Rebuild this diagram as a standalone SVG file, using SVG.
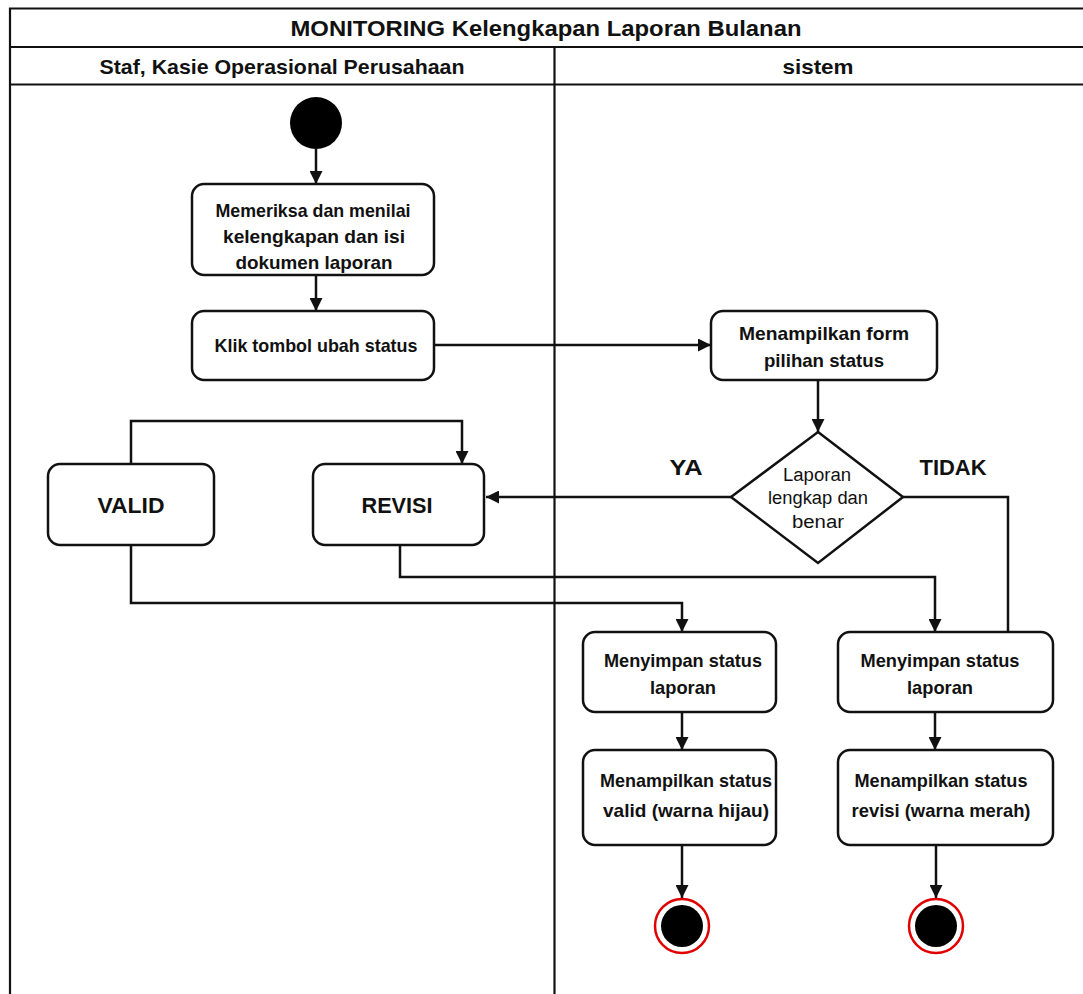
<svg xmlns="http://www.w3.org/2000/svg" width="1083" height="994" viewBox="0 0 1083 994">
  <style>
    .lane { fill: none; stroke: #111; stroke-width: 2.2; }
    .box { fill: #fff; stroke: #111; stroke-width: 2.5; }
    .edge { fill: none; stroke: #111; stroke-width: 2.5; }
    .t { font-family: "Liberation Sans", Arial, sans-serif; font-weight: bold; fill: #111; text-anchor: middle; }
    .title { font-size: 22.5px; }
    .head { font-size: 21px; }
    .lbl { font-size: 17.8px; }
    .big { font-size: 22px; }
    .dec { font-size: 18px; font-weight: normal; }
  </style>
  <defs>
    <marker id="arrow" viewBox="0 0 13 13" refX="13" refY="6.5" markerWidth="13" markerHeight="13" markerUnits="userSpaceOnUse" orient="auto">
      <path d="M0,0 L13,6.5 L0,13 Z" fill="#111"/>
    </marker>
  </defs>
  <rect width="1083" height="994" fill="#fff"/>

  <!-- swimlane frame -->
  <g id="frame">
    <path class="lane" d="M10,994 V8.5 H1083 M10,47 H1083 M10,84.5 H1083 M554.5,47 V994"/>
    <text class="t title" x="546" y="36" textLength="511" lengthAdjust="spacingAndGlyphs">MONITORING Kelengkapan Laporan Bulanan</text>
    <text class="t head" x="282" y="74" textLength="365" lengthAdjust="spacingAndGlyphs">Staf, Kasie Operasional Perusahaan</text>
    <text class="t head" x="818" y="74" textLength="71" lengthAdjust="spacingAndGlyphs">sistem</text>
  </g>

  <!-- connectors -->
  <g id="connectors">
    <path class="edge" d="M316,149 V184" marker-end="url(#arrow)"/>
    <path class="edge" d="M316,275 V311" marker-end="url(#arrow)"/>
    <path class="edge" d="M434,345 H711" marker-end="url(#arrow)"/>
    <path class="edge" d="M818,380 V432" marker-end="url(#arrow)"/>
    <path class="edge" d="M731,497 H486" marker-end="url(#arrow)"/>
    <path class="edge" d="M903,497 H1008 V632"/>
    <path class="edge" d="M131,464 V421 H462 V464" marker-start="url(#arrow)" marker-end="url(#arrow)"/>
    <path class="edge" d="M131,545 V603 H682 V632" marker-end="url(#arrow)"/>
    <path class="edge" d="M400,545 V577 H935 V632" marker-end="url(#arrow)"/>
    <path class="edge" d="M682,712 V750" marker-end="url(#arrow)"/>
    <path class="edge" d="M935,712 V750" marker-end="url(#arrow)"/>
    <path class="edge" d="M682,845 V898" marker-end="url(#arrow)"/>
    <path class="edge" d="M936,845 V898" marker-end="url(#arrow)"/>
  </g>

  <g id="start">
    <circle cx="316" cy="123" r="26" fill="#000"/>
  </g>

  <g id="periksa">
    <rect class="box" x="192" y="184" width="242" height="91" rx="12"/>
    <text class="t lbl" x="313" y="216.5" textLength="195" lengthAdjust="spacingAndGlyphs">Memeriksa dan menilai</text>
    <text class="t lbl" x="314" y="242.5" textLength="182" lengthAdjust="spacingAndGlyphs">kelengkapan dan isi</text>
    <text class="t lbl" x="314" y="268.5" textLength="157" lengthAdjust="spacingAndGlyphs">dokumen laporan</text>
  </g>

  <g id="klik">
    <rect class="box" x="192" y="311" width="242" height="69" rx="12"/>
    <text class="t lbl" x="316" y="352" textLength="203" lengthAdjust="spacingAndGlyphs">Klik tombol ubah status</text>
  </g>

  <g id="form">
    <rect class="box" x="711" y="311" width="226" height="69" rx="12"/>
    <text class="t lbl" x="824" y="340" textLength="170" lengthAdjust="spacingAndGlyphs">Menampilkan form</text>
    <text class="t lbl" x="824" y="366.5" textLength="120" lengthAdjust="spacingAndGlyphs">pilihan status</text>
  </g>

  <g id="decision">
    <path class="box" d="M818,432 L903,497 L818,563 L731,497 Z"/>
    <text class="t dec" x="817" y="480.5" textLength="68" lengthAdjust="spacingAndGlyphs">Laporan</text>
    <text class="t dec" x="818" y="504" textLength="100" lengthAdjust="spacingAndGlyphs">lengkap dan</text>
    <text class="t dec" x="818" y="527.5" textLength="52" lengthAdjust="spacingAndGlyphs">benar</text>
    <text class="t big" x="686" y="475" textLength="33" lengthAdjust="spacingAndGlyphs">YA</text>
    <text class="t big" x="953" y="475" textLength="67" lengthAdjust="spacingAndGlyphs">TIDAK</text>
  </g>

  <g id="valid">
    <rect class="box" x="48" y="464" width="166" height="81" rx="12"/>
    <text class="t big" x="131" y="512.5" textLength="67" lengthAdjust="spacingAndGlyphs">VALID</text>
  </g>

  <g id="revisi">
    <rect class="box" x="313" y="464" width="171" height="81" rx="12"/>
    <text class="t big" x="397" y="512.5" textLength="71" lengthAdjust="spacingAndGlyphs">REVISI</text>
  </g>

  <g id="simpan-valid">
    <rect class="box" x="583" y="632" width="193" height="80" rx="12"/>
    <text class="t lbl" x="683" y="666.5" textLength="158" lengthAdjust="spacingAndGlyphs">Menyimpan status</text>
    <text class="t lbl" x="683" y="693.5" textLength="66" lengthAdjust="spacingAndGlyphs">laporan</text>
  </g>

  <g id="simpan-revisi">
    <rect class="box" x="838" y="632" width="215" height="80" rx="12"/>
    <text class="t lbl" x="940" y="666.5" textLength="159" lengthAdjust="spacingAndGlyphs">Menyimpan status</text>
    <text class="t lbl" x="940" y="693.5" textLength="66" lengthAdjust="spacingAndGlyphs">laporan</text>
  </g>

  <g id="tampil-valid">
    <rect class="box" x="583" y="750" width="193" height="95" rx="12"/>
    <text class="t lbl" x="686" y="787" textLength="172" lengthAdjust="spacingAndGlyphs">Menampilkan status</text>
    <text class="t lbl" x="686" y="817" textLength="166" lengthAdjust="spacingAndGlyphs">valid (warna hijau)</text>
  </g>

  <g id="tampil-revisi">
    <rect class="box" x="838" y="750" width="215" height="95" rx="12"/>
    <text class="t lbl" x="941" y="787" textLength="173" lengthAdjust="spacingAndGlyphs">Menampilkan status</text>
    <text class="t lbl" x="941" y="817" textLength="179" lengthAdjust="spacingAndGlyphs">revisi (warna merah)</text>
  </g>

  <g id="end-valid">
    <circle cx="682" cy="926" r="27" fill="#fff" stroke="#e00000" stroke-width="2.5"/>
    <circle cx="682" cy="926" r="21" fill="#000"/>
  </g>

  <g id="end-revisi">
    <circle cx="936" cy="926" r="27" fill="#fff" stroke="#e00000" stroke-width="2.5"/>
    <circle cx="936" cy="926" r="21" fill="#000"/>
  </g>
</svg>
